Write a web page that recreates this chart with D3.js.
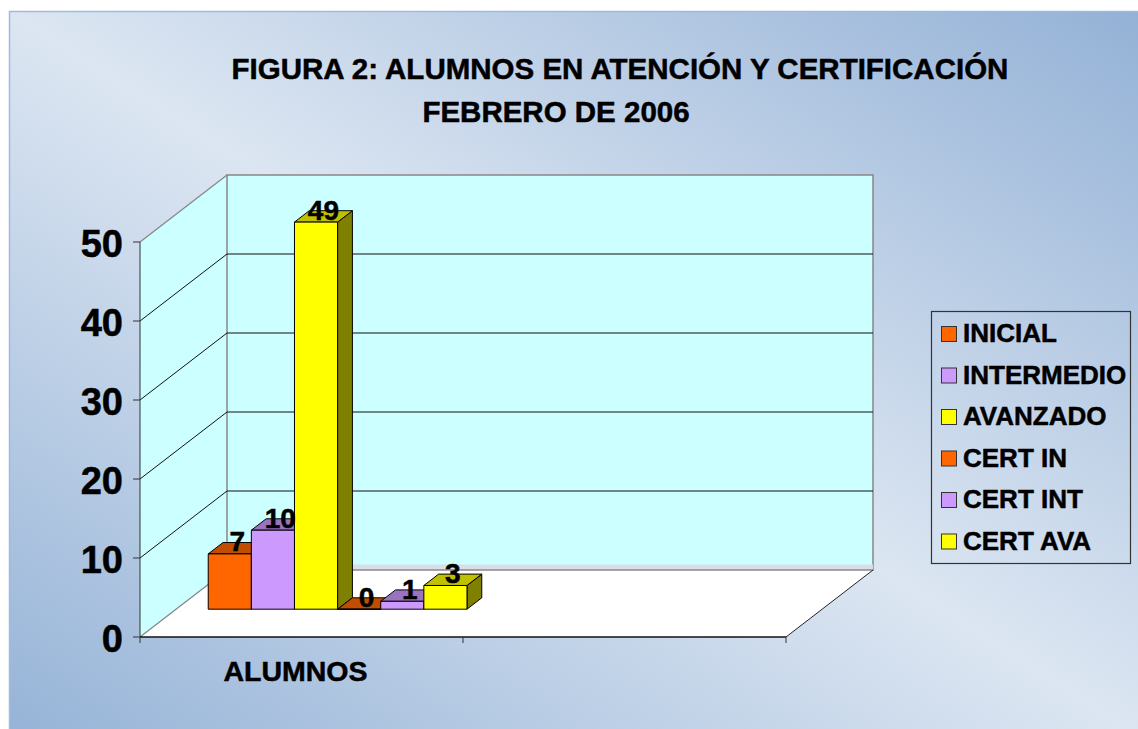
<!DOCTYPE html>
<html>
<head>
<meta charset="utf-8">
<script src="https://cdn.jsdelivr.net/npm/d3@7"></script>
<style>
  body { margin: 0; background: #fff; }
  svg text { font-family: "Liberation Sans", Arial, sans-serif; font-weight: bold; fill: #000;
             stroke: #000; stroke-width: 0.5px; }
</style>
</head>
<body>
<div id="chart"></div>
<script>
// data
const categories = ["ALUMNOS", ""];
const series = ["INICIAL", "INTERMEDIO", "AVANZADO", "CERT IN", "CERT INT", "CERT AVA"];
const values = [7, 10, 49, 0, 1, 3];
const yTicks = [0, 10, 20, 30, 40, 50];
const titleLines = ["FIGURA 2: ALUMNOS EN ATENCIÓN Y CERTIFICACIÓN", "FEBRERO DE 2006"];

const frontColor = ["#ff6600", "#cc99ff", "#ffff00", "#ff6600", "#cc99ff", "#ffff00"];
const topColor   = ["#c04d00", "#9973c0", "#c0c000", "#c04d00", "#9973c0", "#c0c000"];
const sideColor  = ["#803300", "#664d80", "#808000", "#803300", "#664d80", "#808000"];

const width = 1138, height = 729;
// oblique 3d: full depth shift
const DX = 87, DY = -67;
const z0 = 0.415, z1 = 0.585;

const svg = d3.select('#chart').append('svg')
  .attr('width', width).attr('height', height);

const defs = svg.append('defs');
const grad = defs.append('linearGradient').attr('id', 'bg')
  .attr('x1', 1).attr('y1', 0).attr('x2', 0).attr('y2', 1);
grad.append('stop').attr('offset', 0).attr('stop-color', '#93b1d6');
grad.append('stop').attr('offset', 0.5).attr('stop-color', '#dce6f2');
grad.append('stop').attr('offset', 1).attr('stop-color', '#95b3d7');

svg.append('rect')
  .attr('x', 9.5).attr('y', 11.5).attr('width', width).attr('height', height)
  .attr('fill', 'url(#bg)')
  .attr('stroke', '#9fbade').attr('stroke-width', 1.5);

// scales
const x = d3.scaleBand().domain(categories).range([140, 786]);
const xs = d3.scaleBand().domain(series).range([0, x.bandwidth()]).paddingOuter(0.745);
const y = d3.scaleLinear().domain([0, 50]).range([637, 242]);

const P = (px, v, z) => [px + z * DX, y(v) + z * DY];
const poly = pts => 'M' + pts.map(p => p.join(',')).join('L') + 'Z';

const [yMin, yMax] = y.domain();
const xL = x.range()[0], xR = x.range()[1];

// side wall
svg.append('path')
  .attr('d', poly([P(xL, yMin, 0), P(xL, yMax, 0), P(xL, yMax, 1), P(xL, yMin, 1)]))
  .attr('fill', '#ccffff');

// back wall
svg.append('path')
  .attr('d', poly([P(xL, yMin, 1), P(xL, yMax, 1), P(xR, yMax, 1), P(xR, yMin, 1)]))
  .attr('fill', '#ccffff').attr('stroke', '#888').attr('stroke-width', 1.5);

// floor
svg.append('path')
  .attr('d', poly([P(xL, yMin, 0), P(xR, yMin, 0), P(xR, yMin, 1), P(xL, yMin, 1)]))
  .attr('fill', '#ffffff');
svg.append('path')
  .attr('d', poly([P(xL, yMin, 1), P(xR, yMin, 1), P(xR, yMin + 0.7, 1), P(xL, yMin + 0.7, 1)]))
  .attr('fill', '#d9dee8');
svg.append('line')
  .attr('x1', P(xL, yMin, 1)[0]).attr('y1', P(xL, yMin, 1)[1])
  .attr('x2', P(xR, yMin, 1)[0]).attr('y2', P(xR, yMin, 1)[1])
  .attr('stroke', '#888').attr('stroke-width', 1.5);

// gridlines (side + back)
const grid = svg.append('g');
yTicks.forEach(t => {
  const a = P(xL, t, 0), b = P(xL, t, 1), c = P(xR, t, 1);
  const edge = (t === yMin || t === yMax);
  grid.append('path')
    .attr('d', `M${a}L${b}` + (edge ? '' : `L${c}`))
    .attr('fill', 'none')
    .attr('stroke', edge ? '#888' : '#111')
    .attr('stroke-width', edge ? 1.3 : 1);
});

// y axis
const axis = svg.append('g');
axis.append('line')
  .attr('x1', xL).attr('x2', xL).attr('y1', y(yMax)).attr('y2', y(yMin))
  .attr('stroke', '#333');
yTicks.forEach(t => {
  axis.append('line').attr('x1', xL - 7).attr('x2', xL).attr('y1', y(t)).attr('y2', y(t))
    .attr('stroke', '#333');
  axis.append('text').attr('x', 123).attr('y', y(t) + 15)
    .attr('text-anchor', 'end').style('font-size', '38px').text(t);
});

// x axis
axis.append('line').attr('x1', xL).attr('x2', xR).attr('y1', y(0)).attr('y2', y(0))
  .attr('stroke', '#111').attr('stroke-width', 1.3);
axis.append('path')
  .attr('d', `M${P(xR, yMin, 0)}L${P(xR, yMin, 1)}`)
  .attr('stroke', '#222').attr('fill', 'none');
const xTickPos = categories.map(c => x(c)).concat([xR]);
xTickPos.forEach(px => {
  axis.append('line').attr('x1', px).attr('x2', px).attr('y1', y(0)).attr('y2', y(0) + 6)
    .attr('stroke', '#333');
});
categories.forEach(c => {
  axis.append('text').attr('x', x(c) + x.bandwidth() / 2 - 6).attr('y', 681)
    .attr('text-anchor', 'middle').style('font-size', '28.5px').text(c);
});

// bars
const bars = svg.append('g');
const cat = categories[0];
series.forEach((s, i) => {
  const v = values[i];
  const x0 = x(cat) + xs(s), x1 = x0 + xs.bandwidth();
  const g = bars.append('g').attr('stroke', '#000').attr('stroke-width', 1).attr('stroke-linejoin', 'round');
  g.append('path').attr('d', poly([P(x1, 0, z0), P(x1, v, z0), P(x1, v, z1), P(x1, 0, z1)]))
    .attr('fill', sideColor[i]);
  g.append('path').attr('d', poly([P(x0, v, z0), P(x1, v, z0), P(x1, v, z1), P(x0, v, z1)]))
    .attr('fill', topColor[i]);
  g.append('path').attr('d', poly([P(x0, 0, z0), P(x1, 0, z0), P(x1, v, z0), P(x0, v, z0)]))
    .attr('fill', frontColor[i]);
});

// value labels
series.forEach((s, i) => {
  const v = values[i];
  const xc = x(cat) + xs(s) + xs.bandwidth() / 2;
  const p = P(xc, v, z0);
  bars.append('text')
    .attr('x', p[0] + (z1 - z0) * DX / 2)
    .attr('y', p[1] - 2.5)
    .attr('text-anchor', 'middle').style('font-size', '28px')
    .text(v);
});

// title
const title = svg.append('g');
title.append('text').attr('x', 620).attr('y', 79).attr('text-anchor', 'middle')
  .style('font-size', '29.5px').text(titleLines[0]);
title.append('text').attr('x', 556).attr('y', 122).attr('text-anchor', 'middle')
  .style('font-size', '29.5px').text(titleLines[1]);

// legend
const legend = svg.append('g');
legend.append('rect').attr('x', 931.5).attr('y', 311.5).attr('width', 199).attr('height', 252)
  .attr('fill', 'none').attr('stroke', '#333').attr('stroke-width', 1.2);
series.forEach((s, i) => {
  const yy = 342 + i * 41.5;
  legend.append('rect').attr('x', 941.5).attr('y', yy - 15.5).attr('width', 15).attr('height', 15)
    .attr('fill', frontColor[i]).attr('stroke', '#333');
  legend.append('text').attr('x', 963).attr('y', yy).style('font-size', '26px').text(s);
});
</script>
</body>
</html>
